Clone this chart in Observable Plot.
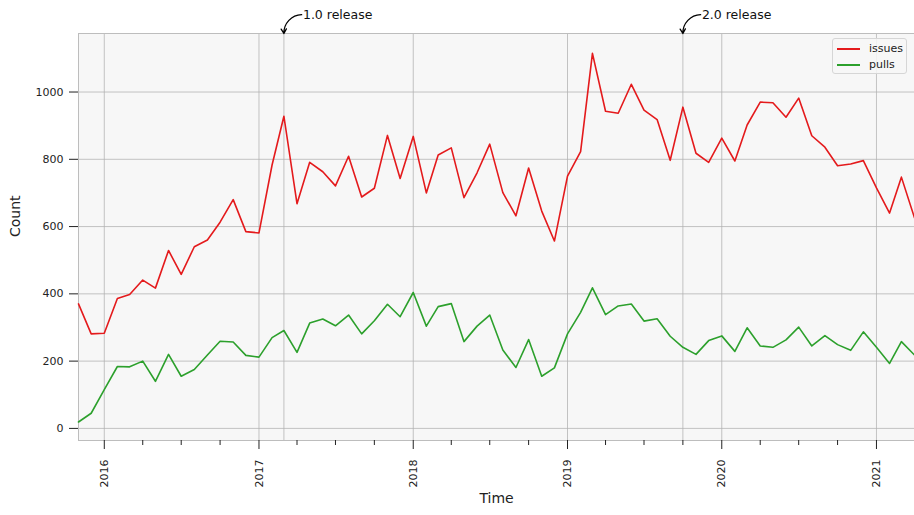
<!DOCTYPE html>
<html><head><meta charset="utf-8">
<script src="https://cdn.jsdelivr.net/npm/d3@7"></script>
<script src="https://cdn.jsdelivr.net/npm/@observablehq/plot@0.6"></script>
<style>
body{margin:0;background:#fff;font-family:"DejaVu Sans",sans-serif}
#wrap{position:relative;width:914px;height:515px}
#legend{position:absolute;left:832px;top:38px;width:75px;height:36px;border:1px solid #d6d6d6;border-radius:3px;background:rgba(247,247,247,0.85);font-size:11px;color:#222;box-sizing:border-box}
.item{position:absolute;left:0;width:100%;height:14px;line-height:14px}
.sw{position:absolute;left:4px;top:6px;width:23px;height:0;border-top:2px solid}
.lab{position:absolute;left:36px;top:0}
</style></head><body><div id="wrap"></div>
<script>
// Monthly counts, Nov 2015 .. Apr 2021
const seriesNames = ["issues", "pulls"];
const seriesColors = ["#e41a1c", "#2ca02c"];
const issues = [370, 281, 283, 386, 398, 441, 417, 529, 458, 540, 560, 613, 680, 585, 581, 783, 928, 668, 791, 763, 721, 809, 688, 714, 871, 743, 868, 700, 813, 834, 686, 760, 845, 701, 632, 774, 646, 557, 750, 823, 1115, 943, 937, 1023, 946, 918, 797, 955, 818, 791, 863, 795, 902, 970, 968, 925, 982, 870, 836, 781, 786, 796, 715, 640, 747, 626];
const pulls = [19, 45, 115, 184, 183, 200, 140, 220, 155, 175, 218, 259, 257, 217, 212, 270, 291, 226, 313, 325, 305, 337, 281, 320, 369, 332, 404, 304, 362, 371, 258, 304, 337, 233, 181, 264, 155, 180, 281, 345, 418, 338, 364, 370, 319, 326, 274, 241, 220, 261, 275, 229, 299, 245, 241, 263, 301, 245, 276, 249, 232, 287, 241, 193, 258, 218];
const firstMonth = "2015-11-01";
const yearTickLabels = ["2016", "2017", "2018", "2019", "2020", "2021"];
const yTicks = [0, 200, 400, 600, 800, 1000];
const releaseLabels = ["1.0 release", "2.0 release"];
const releaseDates = ["2017-03-01", "2019-10-01"];

const months = d3.utcMonth.range(new Date(firstMonth), d3.utcMonth.offset(new Date(firstMonth), issues.length));
const data = months.flatMap((d, i) => [
  {date: d, value: issues[i], series: "issues"},
  {date: d, value: pulls[i], series: "pulls"}
]);
const yearTicks = yearTickLabels.map(y => new Date(y + "-01-01"));
const minorTicks = d3.utcMonth.every(3).range(months[0], months[months.length - 1]).filter(d => d.getUTCMonth() !== 0);
const releases = releaseLabels.map((label, i) => ({label, date: new Date(releaseDates[i])}));

const yDomain = [-36, 1174];
const xDomain = [months[0], months[months.length - 1]];
const gridStyle = {stroke: "#b0b0b0", strokeOpacity: 0.75};
const aboveTop = yDomain[1] + 56;

const chart = Plot.plot({
  width: 914, height: 515,
  marginLeft: 78, marginRight: 0, marginTop: 33, marginBottom: 75,
  style: {fontFamily: "DejaVu Sans", color: "#222", background: "transparent"},
  x: {type: "utc", domain: xDomain},
  y: {domain: yDomain},
  color: {domain: seriesNames, range: seriesColors},
  marks: [
    Plot.frame({fill: "#f7f7f7"}),
    Plot.gridY(yTicks, gridStyle),
    Plot.gridX(yearTicks, gridStyle),
    Plot.ruleX(releases, {x: "date", ...gridStyle}),
    Plot.frame({stroke: "#bdbdbd"}),
    Plot.axisY(yTicks, {tickSize: 9, tickPadding: 6, fontSize: 11, tickFormat: d3.format("d"), label: null}),
    Plot.axisX(yearTicks, {tickFormat: "%Y", tickRotate: -90, tickSize: 9, tickPadding: 10, fontSize: 11, label: null}),
    Plot.axisX(minorTicks, {tickSize: 5, text: null, label: null}),
    Plot.lineY(data, {x: "date", y: "value", z: "series", stroke: "series", strokeWidth: 1.6}),
    Plot.arrow(releases, {
      x1: d => d3.utcDay.offset(d.date, 42), y1: aboveTop,
      x2: "date", y2: yDomain[1],
      bend: -45, headLength: 6, strokeWidth: 1.3, stroke: "#000"
    }),
    Plot.text(releases, {
      x: d => d3.utcDay.offset(d.date, 45), y: aboveTop, text: "label",
      textAnchor: "start", fontSize: 12.5, dx: 0, fill: "#111"
    }),
    Plot.text(["Count"], {frameAnchor: "left", text: d => d, rotate: -90, dx: -63, fontSize: 14}),
    Plot.text(["Time"], {frameAnchor: "bottom", text: d => d, dy: 62, fontSize: 14})
  ]
});
const wrap = document.getElementById("wrap");
wrap.appendChild(chart);
const legend = document.createElement("div");
legend.id = "legend";
seriesNames.forEach((name, i) => {
  const item = document.createElement("div");
  item.className = "item";
  item.style.top = (3 + i * 16) + "px";
  item.innerHTML = `<span class="sw" style="border-color:${seriesColors[i]}"></span><span class="lab">${name}</span>`;
  legend.appendChild(item);
});
wrap.appendChild(legend);
</script></body></html>
